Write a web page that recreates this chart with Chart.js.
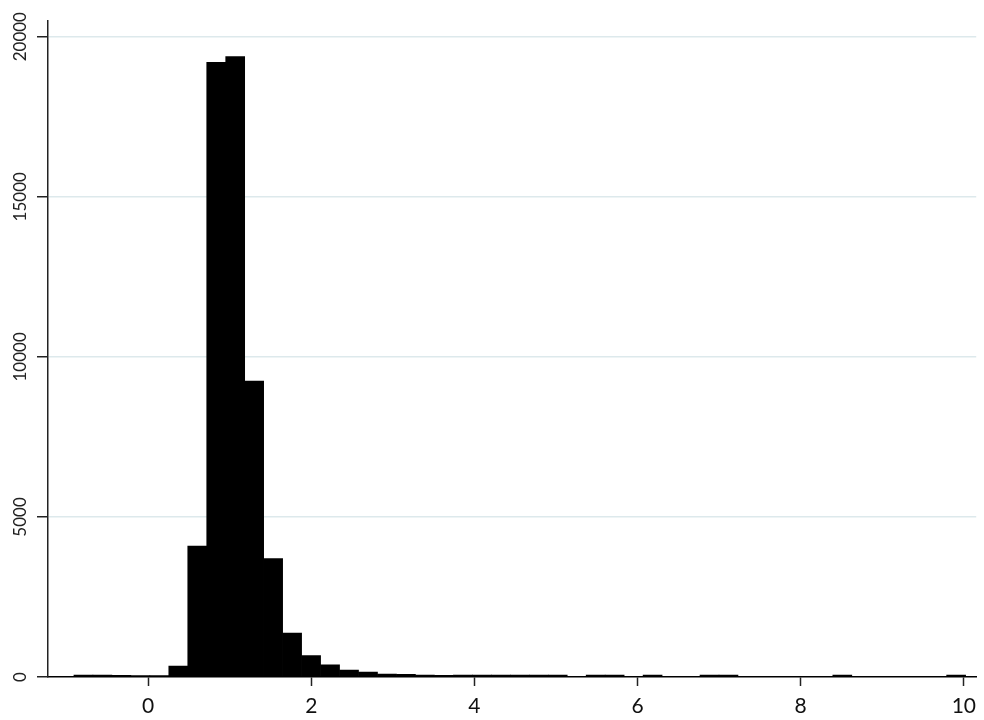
<!DOCTYPE html>
<html>
<head>
<meta charset="utf-8">
<script src="https://cdn.jsdelivr.net/npm/chart.js@4.4.1/dist/chart.umd.min.js"></script>
<style>
  body { margin: 0; background: #fff; }
  #wrap { width: 984px; height: 720px; position: relative; }
</style>
</head>
<body>
<div id="wrap"><canvas id="hist"></canvas></div>
<script>
// histogram bins (start of first bin, width of each bin)
const binStart = -0.91;
const binWidth = 0.2326;

// frequency per bin
const counts = [
    60, 60, 55, 45, 45, 340, 4090, 19200, 19380, 9240,
    3700, 1370, 670, 380, 215, 150, 95, 80, 60, 55,
    60, 60, 60, 60, 60, 60, 0, 60, 60, 0,
    60, 0, 0, 60, 60, 0, 0, 0, 0, 0,
    60, 0, 0, 0, 0, 0, 60
];

// axis ticks
const xTicks = [0, 2, 4, 6, 8, 10];
const yTicks = [0, 5000, 10000, 15000, 20000];

const gridColor = '#dde9ec';
const axisColor = '#222';

// bin centres as x values
const bins = counts.map((c, i) => ({ x: binStart + (i + 0.5) * binWidth, y: c }));

// rotated y tick labels
const yLabels = {
    id: 'yLabels',
    afterDraw(chart) {
        const ctx = chart.ctx;
        const y = chart.scales.y;
        ctx.save();
        ctx.font = '17px Lato';
        ctx.fillStyle = axisColor;
        ctx.textAlign = 'center';
        ctx.textBaseline = 'middle';
        yTicks.forEach(v => {
            ctx.save();
            ctx.translate(21, y.getPixelForValue(v));
            ctx.rotate(-Math.PI / 2);
            ctx.fillText(String(v), 0, 0);
            ctx.restore();
        });
        ctx.restore();
    }
};

const chart = new Chart(document.getElementById('hist'), {
    type: 'bar',
    data: {
        datasets: [{
            data: bins,
            backgroundColor: '#000',
            borderWidth: 0,
            barPercentage: 1,
            categoryPercentage: 1
        }]
    },
    options: {
        responsive: true,
        maintainAspectRatio: false,
        animation: false,
        layout: { padding: { top: 21, right: 0, left: 0, bottom: 0 } },
        plugins: { legend: { display: false }, tooltip: { enabled: false } },
        scales: {
            x: {
                type: 'linear',
                offset: false,
                min: -1.228,
                max: 10.152,
                afterBuildTicks: s => { s.ticks = xTicks.map(v => ({ value: v })); },
                afterFit: s => { s.height = 43; },
                grid: {
                    offset: false,
                    drawOnChartArea: false,
                    drawTicks: true,
                    tickLength: 9,
                    tickColor: axisColor,
                    tickWidth: 1.5
                },
                border: { display: true, color: '#000', width: 1.5 },
                ticks: {
                    font: { family: 'Lato', size: 21 },
                    color: '#111',
                    padding: 8,
                    maxRotation: 0
                }
            },
            y: {
                min: 0,
                max: 20490,
                afterBuildTicks: s => { s.ticks = yTicks.map(v => ({ value: v })); },
                afterFit: s => { s.width = 48; },
                grid: {
                    color: ctx => (ctx.tick && ctx.tick.value === 0) ? 'rgba(0,0,0,0)' : gridColor,
                    lineWidth: 1.5,
                    drawTicks: true,
                    tickLength: 11,
                    tickColor: axisColor,
                    tickWidth: 1.5
                },
                border: { display: true, color: axisColor, width: 1.5 },
                ticks: { display: false }
            }
        }
    },
    plugins: [yLabels]
});
</script>
</body>
</html>
